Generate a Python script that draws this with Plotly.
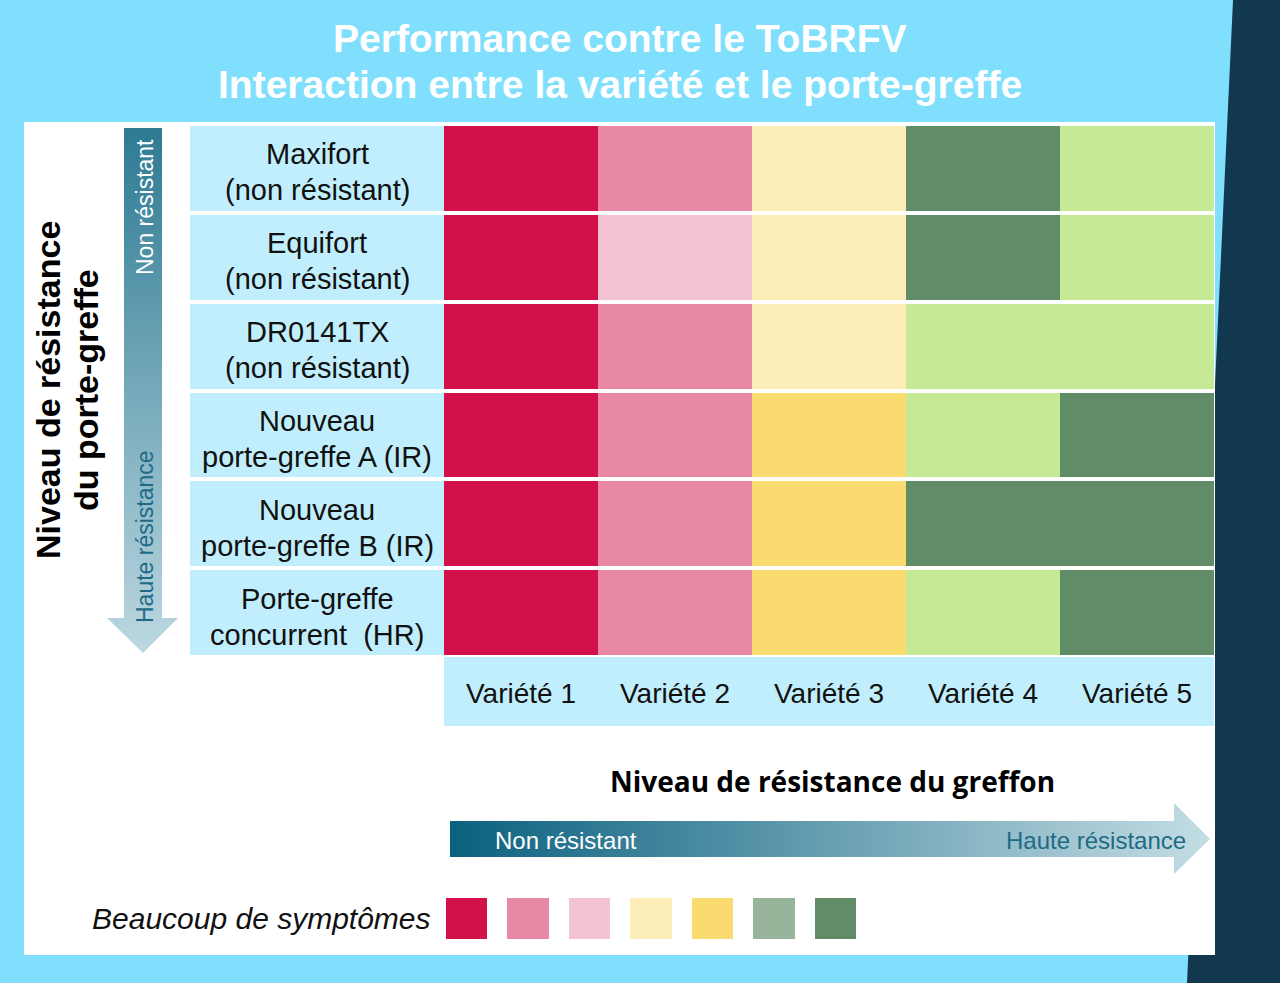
import plotly.graph_objects as go

# ---------------- data ----------------
rootstocks = [
    "Maxifort<br>(non résistant)",
    "Equifort<br>(non résistant)",
    "DR0141TX<br>(non résistant)",
    "Nouveau<br>porte-greffe A (IR)",
    "Nouveau<br>porte-greffe B (IR)",
    "Porte-greffe<br>concurrent  (HR)",
]
varieties = ["Variété 1", "Variété 2", "Variété 3", "Variété 4", "Variété 5"]

# symptom level index per cell (row = rootstock, col = variety)
# 0 crimson, 1 pink, 2 light pink, 3 light yellow, 4 yellow, 5 sage, 6 green, 7 light green
levels = [
    [0, 1, 3, 6, 7],
    [0, 2, 3, 6, 7],
    [0, 1, 3, 7, 7],
    [0, 1, 4, 7, 6],
    [0, 1, 4, 6, 6],
    [0, 1, 4, 7, 6],
]
level_colors = ["#D2104A", "#E988A5", "#F3C3D2", "#FDEDB7",
                "#F9DB6F", "#96B59B", "#608C68", "#C5E995"]
legend_levels = [0, 1, 2, 3, 4, 5, 6]
legend_label = "Beaucoup de symptômes"

title_lines = ["Performance contre le ToBRFV",
               "Interaction entre la variété et le porte-greffe"]
y_title_lines = ["Niveau de résistance", "du porte-greffe"]
x_title = "Niveau de résistance du greffon"
low_label = "Non résistant"
high_label = "Haute résistance"

# ---------------- style ----------------
W, H = 1280, 983
BG = "#80DFFD"
BOX = "#C0EEFC"
NAVY = "#12384F"
FONT = "Liberation Sans"

def px(x):
    return x / W

def py(y):
    return 1 - y / H

n = len(level_colors)
colorscale = []
for i, c in enumerate(level_colors):
    colorscale.append([i / n, c])
    colorscale.append([(i + 1) / n, c])

fig = go.Figure()

# main grid
fig.add_trace(go.Heatmap(
    z=levels, x=varieties, y=rootstocks,
    colorscale=colorscale, zmin=-0.5, zmax=n - 0.5,
    showscale=False, xgap=0, ygap=4, hoverinfo="skip",
    xaxis="x", yaxis="y",
))
# row-label boxes
fig.add_trace(go.Heatmap(
    z=[[0] for _ in rootstocks], x=["lab"], y=rootstocks,
    colorscale=[[0, BOX], [1, BOX]], showscale=False,
    xgap=0, ygap=4, hoverinfo="skip", xaxis="x2", yaxis="y",
))
# legend swatches
fig.add_trace(go.Heatmap(
    z=[legend_levels], x=list(range(len(legend_levels))), y=["leg"],
    colorscale=colorscale, zmin=-0.5, zmax=n - 0.5,
    showscale=False, xgap=20, ygap=0, hoverinfo="skip",
    xaxis="x4", yaxis="y4",
))

# gradient arrows (pixel overlay axis)
fig.add_trace(go.Scatter(
    x=[124, 162, 162, 178, 143, 107, 124, 124],
    y=[128, 128, 618, 618, 653, 618, 618, 128],
    fill="toself", mode="lines", line=dict(width=0),
    fillgradient=dict(type="vertical",
                      colorscale=[[0, "#BCD8E1"], [1, "#2E7A93"]]),
    hoverinfo="skip", showlegend=False, xaxis="x3", yaxis="y3",
))
fig.add_trace(go.Scatter(
    x=[450, 1174, 1174, 1210, 1174, 1174, 450, 450],
    y=[821, 821, 803, 839, 874, 857, 857, 821],
    fill="toself", mode="lines", line=dict(width=0),
    fillgradient=dict(type="horizontal",
                      colorscale=[[0, "#0B617F"], [1, "#C4DDE4"]]),
    hoverinfo="skip", showlegend=False, xaxis="x3", yaxis="y3",
))

shapes = [
    dict(type="path", xref="paper", yref="paper",
         path=f"M {px(1233)} 1 L 1 1 L 1 0 L {px(1187)} 0 Z",
         fillcolor=NAVY, line=dict(width=0), layer="below"),
    dict(type="rect", xref="paper", yref="paper",
         x0=px(24), x1=px(1215), y0=py(955), y1=py(122),
         fillcolor="white", line=dict(width=0), layer="below"),
    dict(type="rect", xref="paper", yref="paper",
         x0=px(444), x1=px(1214), y0=py(726), y1=py(657),
         fillcolor=BOX, line=dict(width=0), layer="below"),
]

annotations = []
for line, yc in zip(title_lines, [39, 85]):
    annotations.append(dict(
        text="<b>" + line + "</b>",
        xref="paper", yref="paper", x=px(620), y=py(yc),
        showarrow=False, font=dict(family=FONT, size=39, color="white"),
        xanchor="center", yanchor="middle", borderpad=0))
for r in rootstocks:
    parts = r.split("<br>")
    for line, shift in zip(parts, [14, -22]):
        annotations.append(dict(
            text=line, xref="paper", yref="y", x=px(317), y=r, yshift=shift,
            showarrow=False, font=dict(family=FONT, size=29, color="#111"),
            xanchor="center", yanchor="middle"))
for v in varieties:
    annotations.append(dict(
        text=v, xref="x", yref="paper", x=v, y=py(693),
        showarrow=False, font=dict(family=FONT, size=28, color="#111"),
        xanchor="center", yanchor="middle"))
for line, xc in zip(y_title_lines, [48, 86]):
    annotations.append(dict(
        text="<b>" + line + "</b>", xref="paper", yref="paper",
        x=px(xc), y=py(390), textangle=-90, showarrow=False,
        font=dict(family=FONT, size=34, color="black"),
        xanchor="center", yanchor="middle"))
annotations.append(dict(
    text=low_label, xref="paper", yref="paper", x=px(145), y=py(207),
    textangle=-90, showarrow=False,
    font=dict(family=FONT, size=23, color="white"),
    xanchor="center", yanchor="middle"))
annotations.append(dict(
    text=high_label, xref="paper", yref="paper", x=px(145), y=py(537),
    textangle=-90, showarrow=False,
    font=dict(family=FONT, size=23, color="#1F6A85"),
    xanchor="center", yanchor="middle"))
annotations.append(dict(
    text="<b>" + x_title + "</b>", xref="paper", yref="paper",
    x=px(832), y=py(781), showarrow=False,
    font=dict(family="Open Sans", size=28, color="black"),
    xanchor="center", yanchor="middle"))
annotations.append(dict(
    text=low_label, xref="paper", yref="paper", x=px(566), y=py(840),
    showarrow=False, font=dict(family=FONT, size=24, color="white"),
    xanchor="center", yanchor="middle"))
annotations.append(dict(
    text=high_label, xref="paper", yref="paper", x=px(1188), y=py(840),
    showarrow=False, font=dict(family=FONT, size=24, color="#1F6A85"),
    xanchor="right", yanchor="middle"))
annotations.append(dict(
    text="<i>" + legend_label + "</i>", xref="paper", yref="paper",
    x=px(433), y=py(918), showarrow=False,
    font=dict(family=FONT, size=30, color="#111"),
    xanchor="right", yanchor="middle"))

hidden = dict(visible=False, showgrid=False, zeroline=False, fixedrange=True)
fig.update_layout(
    width=W, height=H, margin=dict(l=0, r=0, t=0, b=0),
    paper_bgcolor=BG, plot_bgcolor="rgba(0,0,0,0)",
    showlegend=False,
    xaxis=dict(domain=[px(444), px(1214)], **hidden),
    yaxis=dict(domain=[py(657), py(124)], autorange="reversed", **hidden),
    xaxis2=dict(domain=[px(190), px(444)], anchor="y", **hidden),
    xaxis3=dict(domain=[0, 1], range=[0, W], anchor="y3", **hidden),
    yaxis3=dict(domain=[0, 1], range=[H, 0], anchor="x3", **hidden),
    xaxis4=dict(domain=[px(436), px(866)], anchor="y4", **hidden),
    yaxis4=dict(domain=[py(939), py(898)], anchor="x4", **hidden),
    shapes=shapes, annotations=annotations,
)

fig.write_html("out.html", config={"displayModeBar": False},
               post_script="document.body.style.margin='0';")
